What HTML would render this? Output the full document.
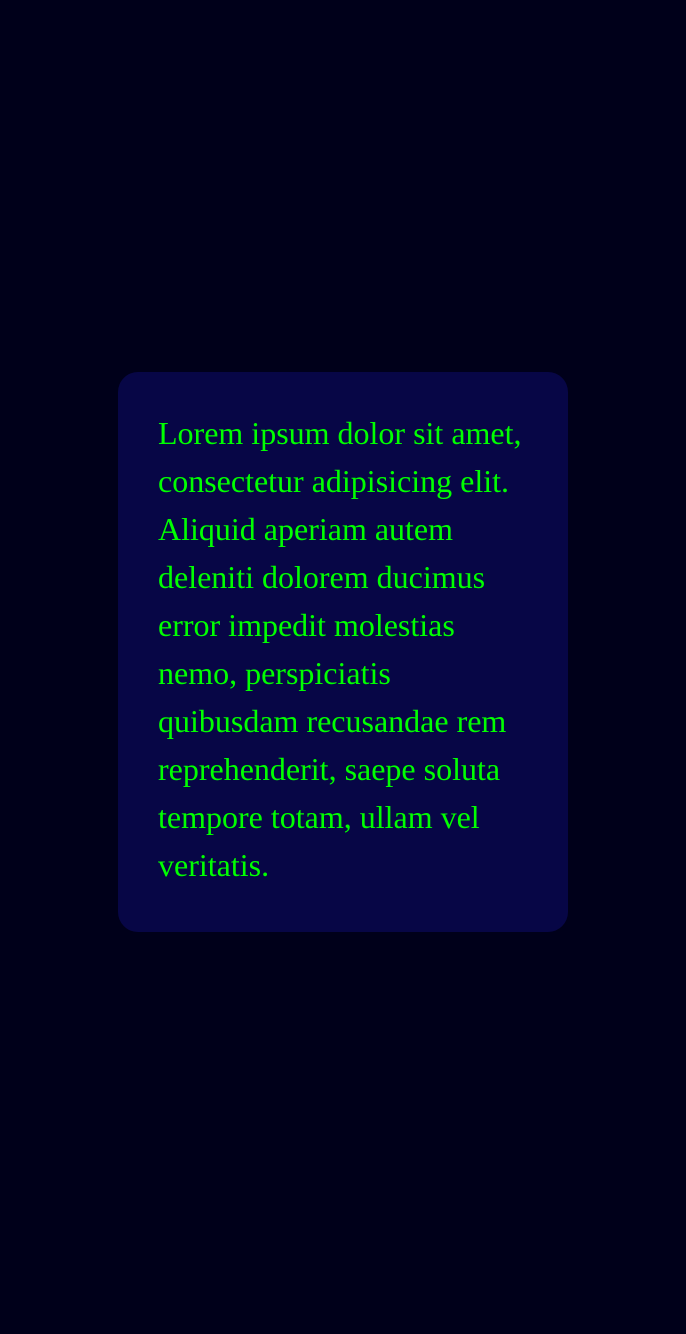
<!DOCTYPE html>
<html>
<head>
<meta charset="utf-8">
<style>
  html, body { margin: 0; padding: 0; }
  body {
    width: 686px; height: 1334px;
    background: #00001a;
    position: relative;
    overflow: hidden;
  }
  .card {
    position: absolute;
    left: 118px; top: 372px;
    width: 450px; height: 560px;
    box-sizing: border-box;
    padding: 37px 40px 43px 40px;
    background: #070646;
    border-radius: 20px;
  }
  .card p {
    margin: 0;
    font-family: "Liberation Serif", serif;
    font-size: 32px;
    line-height: 48px;
    color: #00ff00;
  }
</style>
</head>
<body>
  <div class="card">
    <p>Lorem ipsum dolor sit amet, consectetur adipisicing elit. Aliquid aperiam autem deleniti dolorem ducimus error impedit molestias nemo, perspiciatis quibusdam recusandae rem reprehenderit, saepe soluta tempore totam, ullam vel veritatis.</p>
  </div>
</body>
</html>
